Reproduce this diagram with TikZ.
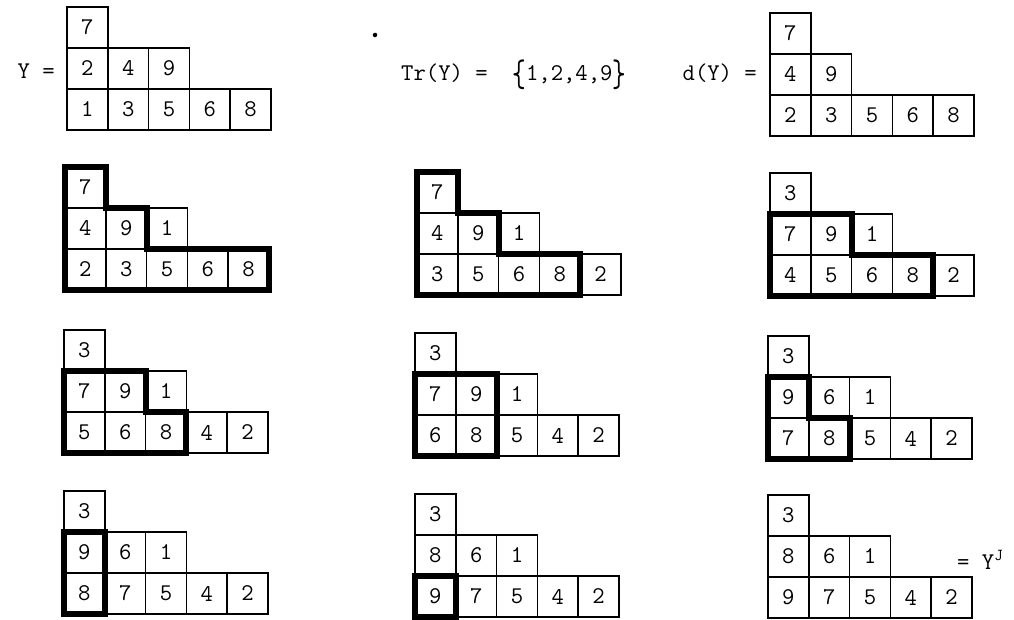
\documentclass[tikz,border=0pt]{standalone}
\usepackage{fontspec}
\newcommand\cw{40.8}
\newcommand\chh{41}
\newcommand\bigbr[1]{\raisebox{-0.25em}{\scalebox{1.1}[1.6]{#1}}}
\tikzset{
  cell/.style={draw, line width=1.5pt, minimum width=40.8pt, minimum height=41pt,
    inner sep=0pt, outer sep=0pt, anchor=north west,
    font=\ttfamily\fontsize{24}{24}\selectfont},
  thickline/.style={line width=6pt, line join=miter, line cap=rect},
  txt/.style={font=\ttfamily\fontsize{24}{24}\selectfont, inner sep=0pt}
}
\newcommand\ytab[6]{%
  \foreach \v [count=\i from 0] in {#4} {\node[cell] (#1-0-\i) at ({#2+\i*\cw},{#3}) {\v};}%
  \foreach \v [count=\i from 0] in {#5} {\node[cell] (#1-1-\i) at ({#2+\i*\cw},{#3+\chh}) {\v};}%
  \foreach \v [count=\i from 0] in {#6} {\node[cell] (#1-2-\i) at ({#2+\i*\cw},{#3+2*\chh}) {\v};}%
}
\begin{document}
\begin{tikzpicture}[x=1pt,y=-1pt]
\fill[white] (0,0) rectangle (1014,620);
\useasboundingbox (0,0) rectangle (1014,620);
% tableaux
\ytab{a}{67}{7}{7}{2,4,9}{1,3,5,6,8}
\ytab{b}{65}{167}{7}{4,9,1}{2,3,5,6,8}
\ytab{c}{417}{172}{7}{4,9,1}{3,5,6,8,2}
\ytab{d}{770}{13}{7}{4,9}{2,3,5,6,8}
\ytab{e}{770}{173}{3}{7,9,1}{4,5,6,8,2}
\ytab{f}{64}{330}{3}{7,9,1}{5,6,8,4,2}
\ytab{g}{415}{333}{3}{7,9,1}{6,8,5,4,2}
\ytab{h}{768}{336}{3}{9,6,1}{7,8,5,4,2}
\ytab{i}{64}{491}{3}{9,6,1}{8,7,5,4,2}
\ytab{j}{415}{494}{3}{8,6,1}{9,7,5,4,2}
\ytab{k}{768}{495}{3}{8,6,1}{9,7,5,4,2}
% thick outlines
\draw[thickline] (b-0-0.north west) -- (b-0-0.north east) -- (b-0-0.south east)
  -- (b-1-1.north east) -- (b-1-1.south east) -- (b-2-4.north east)
  -- (b-2-4.south east) -- (b-2-0.south west) -- cycle;
\draw[thickline] (c-0-0.north west) -- (c-0-0.north east) -- (c-0-0.south east)
  -- (c-1-1.north east) -- (c-1-1.south east) -- (c-2-3.north east)
  -- (c-2-3.south east) -- (c-2-0.south west) -- cycle;
\draw[thickline] (e-1-0.north west) -- (e-1-1.north east) -- (e-1-1.south east)
  -- (e-2-3.north east) -- (e-2-3.south east) -- (e-2-0.south west) -- cycle;
\draw[thickline] (f-1-0.north west) -- (f-1-1.north east) -- (f-1-1.south east)
  -- (f-2-2.north east) -- (f-2-2.south east) -- (f-2-0.south west) -- cycle;
\draw[thickline] (g-1-0.north west) rectangle (g-2-1.south east);
\draw[thickline] (h-1-0.north west) -- (h-1-0.north east) -- (h-1-0.south east)
  -- (h-2-1.north east) -- (h-2-1.south east) -- (h-2-0.south west) -- cycle;
\draw[thickline] (i-1-0.north west) rectangle (i-2-0.south east);
\draw[thickline] (j-2-0.north west) rectangle (j-2-0.south east);
% texts
\node[txt, anchor=east] (ylab) at (55,71) {Y =};
\node[txt, anchor=west] (tr) at (401,75) {Tr(Y) =\ \ \bigbr{\{}1,2,4,9\bigbr{\}}};
\node[txt, anchor=east] (dlab) at (757,73) {d(Y) =};
\node[txt, anchor=west] (yj) at (957,560) {= Y\textsuperscript{J}};
\node[circle, fill, inner sep=1.6pt] (dot) at (375,35) {};
\end{tikzpicture}
\end{document}
